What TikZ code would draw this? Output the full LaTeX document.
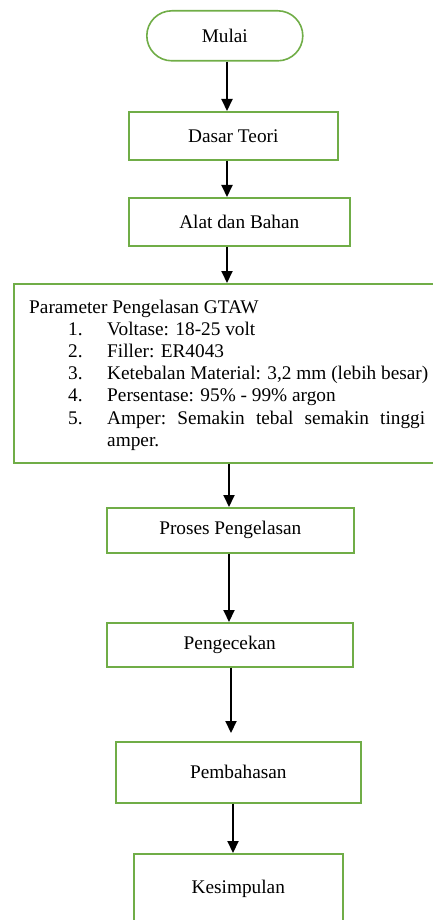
\documentclass[tikz,border=0pt]{standalone}
\usepackage{fontspec}
\setmainfont{Liberation Serif}
\usetikzlibrary{arrows.meta}
\definecolor{boxgreen}{RGB}{112,173,71}
\begin{document}
\begin{tikzpicture}[x=1pt,y=-1pt,
  every node/.style={font=\fontsize{19.3}{22.2}\selectfont},
  box/.style={draw=boxgreen,line width=1.6pt,inner sep=0pt,anchor=north west},
  ptxt/.style={anchor=base west,inner sep=0pt},
  arr/.style={draw=black,line width=2pt,-{Triangle[width=11pt,length=12pt]}}]
\useasboundingbox (0,0) rectangle (433,920);
\clip (0,0) rectangle (433,920);
% boxes
\node[box,rounded corners=25pt,minimum width=156pt,minimum height=50pt] (mulai) at (146,10) {Mulai};
\node[box,minimum width=209pt,minimum height=48pt] (dasar) at (128,111) {Dasar Teori};
\node[box,minimum width=221pt,minimum height=48pt] (alat) at (128,197) {Alat dan Bahan};
\node[box,minimum width=447pt,minimum height=179pt] (param) at (13,283) {};
\node[box,minimum width=247pt,minimum height=45pt] (proses) at (106,507) {Proses Pengelasan};
\node[box,minimum width=246pt,minimum height=44pt] (cek) at (106,622) {Pengecekan};
\node[box,minimum width=245pt,minimum height=61pt] (bahas) at (115,741) {Pembahasan};
\node[box,minimum width=209pt,text height=40pt,text depth=80pt,inner ysep=0pt] (kes) at (133,853) {Kesimpulan};
% parameter text
\node[ptxt] (p0) at (29,313) {Parameter Pengelasan GTAW};
\node[ptxt] (n1) at (68,335.2) {1.};
\node[ptxt] (t1) at (107,335.2) {Voltase: 18-25 volt};
\node[ptxt] (n2) at (68,357.4) {2.};
\node[ptxt] (t2) at (107,357.4) {Filler: ER4043};
\node[ptxt] (n3) at (68,379.6) {3.};
\node[ptxt] (t3) at (107,379.6) {Ketebalan Material: 3,2 mm (lebih besar)};
\node[ptxt] (n4) at (68,401.8) {4.};
\node[ptxt] (t4) at (107,401.8) {Persentase: 95\% - 99\% argon};
\node[ptxt] (n5) at (68,424) {5.};
\node[ptxt] (t5) at (107,424) {\hbox to 318pt{Amper:\hfill Semakin\hfill tebal\hfill semakin\hfill tinggi}};
\node[ptxt] (t6) at (107,446.2) {amper.};
% arrow columns
\coordinate (c1) at (227,0);
\coordinate (c2) at (229,0);
\coordinate (c3) at (231,0);
\coordinate (c4) at (233,0);
\draw[arr] (mulai.south -| c1) -- (dasar.north -| c1);
\draw[arr] (dasar.south -| c1) -- (alat.north -| c1);
\draw[arr] (alat.south -| c1) -- (param.north -| c1);
\draw[arr] (param.south -| c2) -- (proses.north -| c2);
\draw[arr] (proses.south -| c2) -- (cek.north -| c2);
\draw[arr,shorten >=8pt] (cek.south -| c3) -- (bahas.north -| c3);
\draw[arr] (bahas.south -| c4) -- (kes.north -| c4);
\end{tikzpicture}
\end{document}
